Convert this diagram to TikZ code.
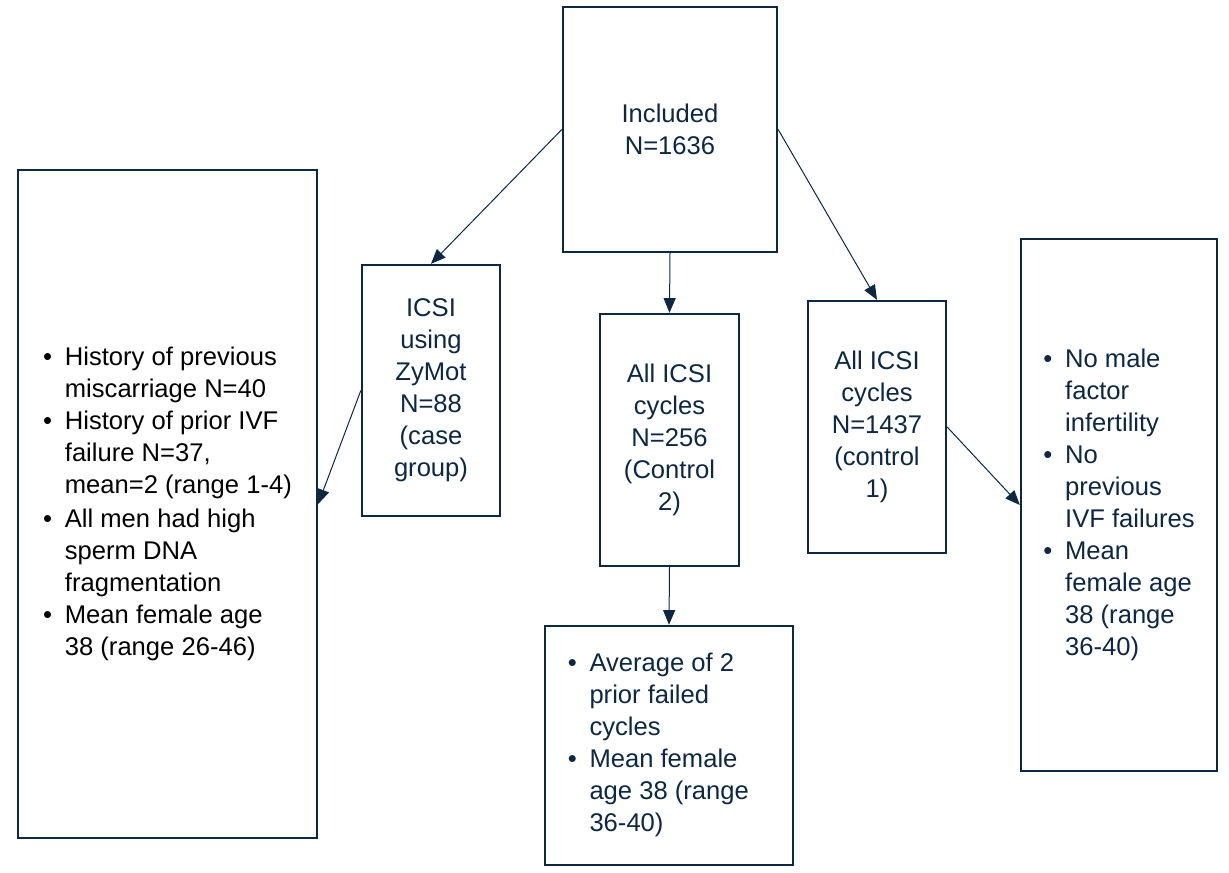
\documentclass[tikz,border=0pt]{standalone}
\usepackage{fontspec}
\setmainfont{Liberation Sans}
\usepackage{tikz}
\usetikzlibrary{arrows.meta}
\definecolor{navy}{HTML}{0E2841}

\begin{document}
\begin{tikzpicture}[x=0.75pt,y=-0.75pt,
  box/.style={draw=navy,line width=1.75pt,inner sep=0pt,text=navy,align=center,
    font=\fontsize{19.2}{24}\selectfont},
  arr/.style={draw=navy,line width=0.75pt,-{Triangle[length=11pt,width=9pt]}}]
\fill[white] (0,0) rectangle (1229,873);
% boxes
\node[box,minimum width=160.5pt,minimum height=183.75pt] (incl) at (670,129.5) {Included\\N=1636};
\node[box,minimum width=103.5pt,minimum height=188.25pt] (icsi) at (431,390.5) {ICSI\\using\\ZyMot\\N=88\\(case\\group)};
\node[box,minimum width=104.25pt,minimum height=189pt] (ctrltwo) at (669.5,440) {All ICSI\\cycles\\N=256\\(Control\\2)};
\node[box,minimum width=103.5pt,minimum height=189pt] (ctrlone) at (877,427) {All ICSI\\cycles\\N=1437\\(control\\1)};
\node[box,text=black,minimum width=224.25pt,minimum height=501pt] (casebox) at (167.5,504) {%
\raisebox{7pt}{\begin{tabular}{@{}l@{\hspace{0.5em}}l@{}}
\textbullet & History of previous\\
 & miscarriage N=40\\
\textbullet & History of prior IVF\\
 & failure N=37,\\
 & mean=2 (range 1-4)\\[2pt]
\textbullet & All men had high\\
 & sperm DNA\\
 & fragmentation\\
\textbullet & Mean female age\\
 & 38 (range 26-46)
\end{tabular}}};
\node[box,minimum width=186pt,minimum height=179.25pt] (ctrltwobox) at (669,745.5) {%
\begin{tabular}{@{}l@{\hspace{0.5em}}l@{}}
\textbullet & Average of 2\\
 & prior failed\\
 & cycles\\
\textbullet & Mean female\\
 & age 38 (range\\
 & 36-40)
\end{tabular}\hspace*{16pt}};
\node[box,minimum width=147pt,minimum height=399pt] (ctrlonebox) at (1119,505) {%
\raisebox{-3pt}{\begin{tabular}{@{}l@{\hspace{0.5em}}l@{}}
\textbullet & No male\\
 & factor\\
 & infertility\\
\textbullet & No\\
 & previous\\
 & IVF failures\\
\textbullet & Mean\\
 & female age\\
 & 38 (range\\
 & 36-40)
\end{tabular}}};
% connectors
\draw[arr] (incl.west) -- (icsi.north);
\draw[arr] (incl.south) -- (ctrltwo.north);
\draw[arr] (incl.east) -- (ctrlone.north);
\draw[arr] (icsi.west) -- (casebox.east);
\draw[arr] (ctrltwo.south) -- (ctrltwobox.north);
\draw[arr] (ctrlone.east) -- (ctrlonebox.west);
\end{tikzpicture}
\end{document}
